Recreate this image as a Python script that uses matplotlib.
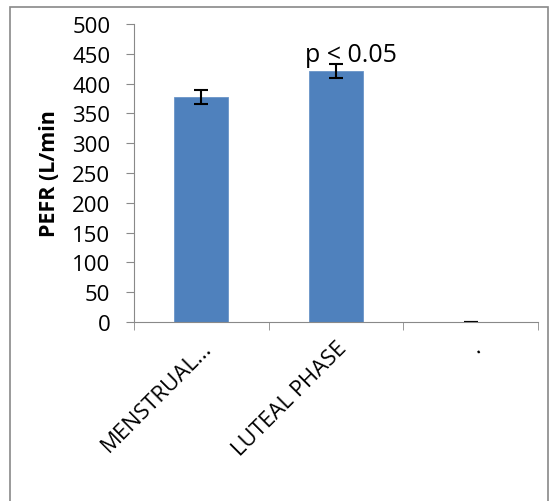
"""
PEFR by menstrual cycle phase - bar chart with error bars
"""
import numpy as np
import matplotlib
matplotlib.use("Agg")
import matplotlib.pyplot as plt
from matplotlib.patches import Rectangle

phases = ["MENSTRUAL...", "LUTEAL PHASE", "."]
pefr = [378, 421, 0]
pefr_err = [12, 12, 0]

plt.rcParams['font.family'] = ['Open Sans', 'DejaVu Sans']

fig = plt.figure(figsize=(5.6, 5.02), dpi=100)
# outer chart frame
fig.patches.append(Rectangle((10 / 560, -0.02), 538 / 560, 1 - 8 / 502 + 0.02,
                             transform=fig.transFigure, fill=False,
                             edgecolor="#898989", linewidth=1.2))

ax = fig.add_axes([134 / 560, 1 - 323 / 502, 404 / 560, 298 / 502])
x = np.arange(len(phases))
ax.bar(x, pefr, width=0.4, color="#4F81BD", edgecolor="#6A95C8", linewidth=0.6,
       yerr=pefr_err, capsize=5, error_kw=dict(ecolor="black", elinewidth=1.5, capthick=1.5))

ax.set_xlim(-0.5, len(phases) - 0.5)
ax.set_ylim(0, 500)
ax.set_yticks(np.arange(0, 501, 50))
ax.tick_params(axis="y", labelsize=16, length=6, color="#898989", pad=11)

ax.set_xticks(x)
ax.set_xticklabels(phases, rotation=45, ha="right", rotation_mode="anchor", fontsize=16)
ax.tick_params(axis="x", which="major", length=0, pad=11)
ax.set_xticks(np.arange(-0.5, len(phases)), minor=True)
ax.tick_params(axis="x", which="minor", length=6, color="#898989")

for s in ["top", "right"]:
    ax.spines[s].set_visible(False)
for s in ["left", "bottom"]:
    ax.spines[s].set_color("#898989")

ax.set_ylabel("PEFR (L/min", fontsize=15.5, fontweight="bold", labelpad=9)
ax.text(1.11, 438, "p < 0.05", ha="center", va="baseline", fontsize=18)

fig.savefig("out.png", dpi=100)
